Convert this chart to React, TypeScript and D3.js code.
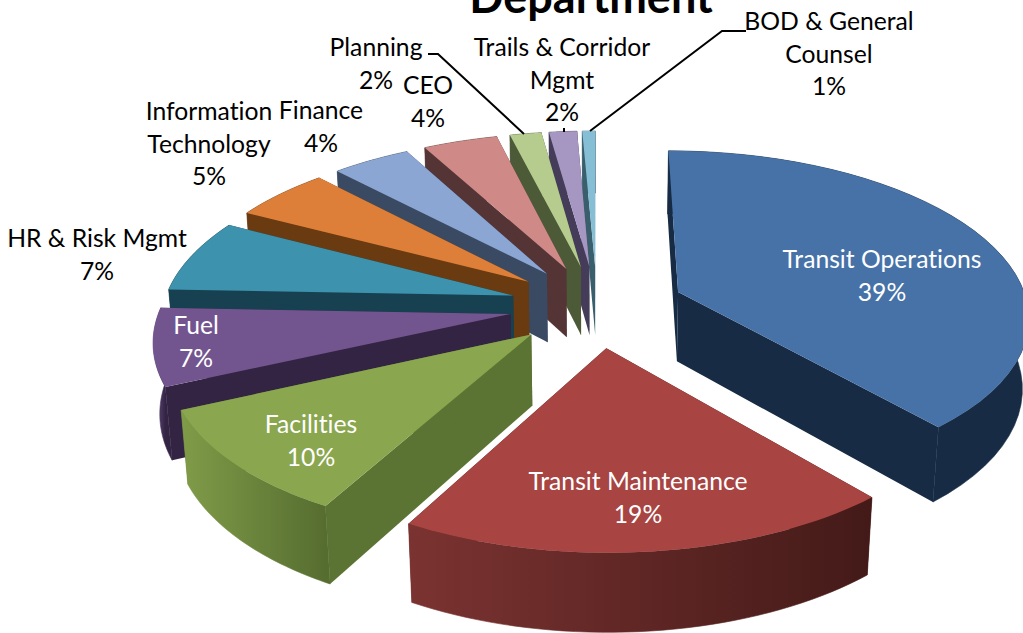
import * as d3 from 'd3';

const departments = [
  'Transit Operations',
  'Transit Maintenance',
  'Facilities',
  'Fuel',
  'HR & Risk Mgmt',
  'Information Technology',
  'Finance',
  'CEO',
  'Planning',
  'Trails & Corridor Mgmt',
  'BOD & General Counsel',
];
// the chart only prints them rounded
const shares = [38.7, 19.3, 10.2, 7.4, 7.1, 5.2, 4.2, 4.0, 1.7, 1.5, 0.7];

// label text as wrapped in the chart
const labelLines = [
  ['Transit Operations'],
  ['Transit Maintenance'],
  ['Facilities'],
  ['Fuel'],
  ['HR & Risk Mgmt'],
  ['Information', 'Technology'],
  ['Finance'],
  ['CEO'],
  ['Planning'],
  ['Trails & Corridor', 'Mgmt'],
  ['BOD & General', 'Counsel'],
];

const topColors = ['#4672a8', '#a84442', '#8aa64e', '#72558f', '#3d93ad', '#dd7f39', '#8ba6d2', '#cf8a88', '#b6cb8e', '#a696c2', '#86bed5'];
const sideColors = ['#172b44', '#431a18', '#5c7433', '#342444', '#174050', '#6a3a10', '#3a4a63', '#553435', '#4c5a38', '#443c58', '#3a5f6c'];
const wallLeftColors = ['#172b44', '#7b3331', '#809c48', '#6a5288', '#174050', '#6a3a10', '#3a4a63', '#553435', '#4c5a38', '#443c58', '#3a5f6c'];
const wallRightColors = ['#172b44', '#431a18', '#566d30', '#342444', '#174050', '#6a3a10', '#3a4a63', '#553435', '#4c5a38', '#443c58', '#3a5f6c'];

// [centre x, y of first line centre]
const labelAnchors = [
  [882, 260], [638, 482], [311, 425], [196, 326], [97, 239],
  [209, 112], [321, 111], [428, 86], [376, 48], [562, 48], [829, 22],
];
const insideCount = 4;

const width = 1023,
  height = 633,
  cx = 597,
  cy = 306,
  rx = 350,
  ry = 163.9,
  thickness = 71,
  explode = 0.25,
  camera = 7.33,
  sink = 0.11;

// ground plane -> screen, with z 0 on the top face and 1 on the bottom face
const project = (x: number, y: number, z: number): [number, number] => {
  const s = camera / (camera - y + sink * z);
  return [cx + rx * x * s, cy + (ry * y + thickness * z) * s];
};

const slices = d3.pie<number>().sort(null)(shares);
const line = d3.line();

const faces = slices
  .map((slice, i) => {
    const mid = (slice.startAngle + slice.endAngle) / 2;
    const ox = explode * Math.sin(mid),
      oy = -explode * Math.cos(mid);
    const steps = d3.range(0, 41).map(
      (k) => slice.startAngle + ((slice.endAngle - slice.startAngle) * k) / 40
    );
    const rim = (z: number) =>
      steps.map((a) => project(ox + Math.sin(a), oy - Math.cos(a), z));
    const apex = (z: number) => project(ox, oy, z);
    const rimTop = rim(0),
      rimBottom = rim(1);
    return {
      i,
      depth: oy - Math.cos(mid),
      top: line([apex(0), ...rimTop])! + 'Z',
      wall: line([...rimTop, ...rimBottom.slice().reverse()])! + 'Z',
      startWall: line([apex(0), rimTop[0], rimBottom[0], apex(1)])! + 'Z',
      endWall: line([apex(0), rimTop[40], rimBottom[40], apex(1)])! + 'Z',
      x1: d3.min(rimTop, (d) => d[0])!,
      x2: d3.max(rimTop, (d) => d[0])!,
    };
  })
  .sort((a, b) => a.depth - b.depth);

const labelFont = 'Lato, sans-serif';

export default function App() {
  return (
    <svg
      width={width}
      height={height}
      viewBox={`0 0 ${width} ${height}`}
      style={{
        position: 'absolute',
        left: 0,
        top: 0,
        background: '#fff',
        fontVariantLigatures: 'none',
      }}
    >
      <defs>
        {faces.map((f) => (
          <linearGradient
            key={f.i}
            id={`wall-${f.i}`}
            gradientUnits="userSpaceOnUse"
            x1={f.x1}
            x2={f.x2}
            y1={0}
            y2={0}
          >
            <stop offset="0" stopColor={wallLeftColors[f.i]} />
            <stop offset="1" stopColor={wallRightColors[f.i]} />
          </linearGradient>
        ))}
      </defs>

      <text
        x={591}
        y={12.5}
        textAnchor="middle"
        fontFamily={labelFont}
        fontWeight={700}
        fontSize={45}
        fill="#000"
      >
        Department
      </text>

      {faces.map((f) => (
        <g key={f.i}>
          <path d={f.startWall} fill={sideColors[f.i]} />
          <path d={f.endWall} fill={sideColors[f.i]} />
          <path
            d={f.wall}
            fill={`url(#wall-${f.i})`}
            stroke={`url(#wall-${f.i})`}
            strokeWidth={0.6}
          />
          <path d={f.top} fill={topColors[f.i]} />
        </g>
      ))}

      <g fill="none" stroke="#000" strokeWidth={2}>
        <path d="M428,54H438L524,134" />
        <path d="M564,128V132" />
        <path d="M590,131L722,31H746" />
      </g>

      {departments.map((name, i) => {
        const lines = [...labelLines[i], `${Math.round(shares[i])}%`];
        const [x, y] = labelAnchors[i];
        return (
          <text
            key={name}
            x={x}
            textAnchor="middle"
            fontFamily={labelFont}
            fontSize={24.7}
            fill={i < insideCount ? '#fff' : '#000'}
          >
            {lines.map((t, k) => (
              <tspan key={k} x={x} y={y + k * 32.5 + 8}>
                {t}
              </tspan>
            ))}
          </text>
        );
      })}
    </svg>
  );
}
